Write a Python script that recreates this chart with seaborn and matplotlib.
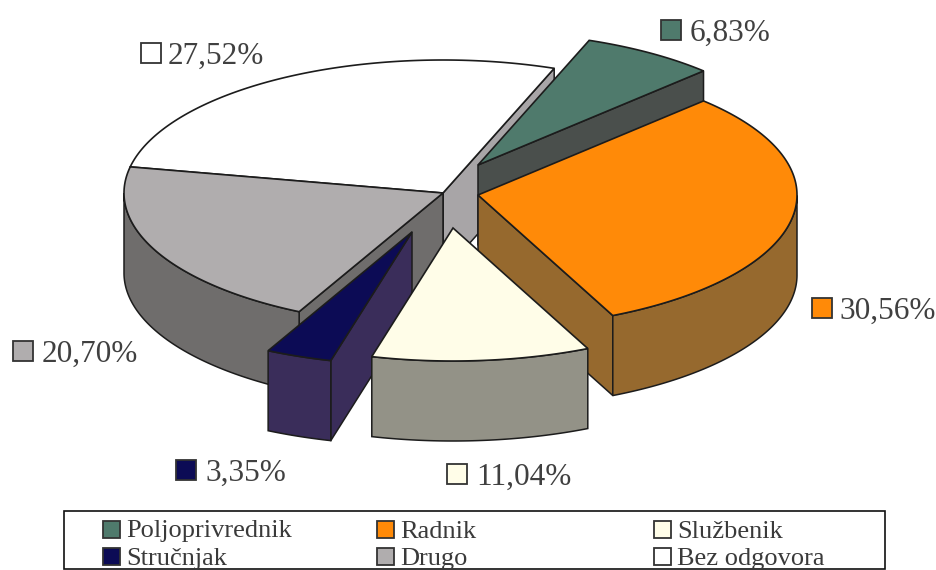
import matplotlib.pyplot as plt
import numpy as np
import seaborn as sns
from matplotlib.patches import Rectangle

labels = ["Poljoprivrednik", "Radnik", "Službenik", "Stručnjak", "Drugo", "Bez odgovora"]
shares = [6.83, 30.56, 11.04, 3.35, 20.70, 27.52]
share_text = ["6,83%", "30,56%", "11,04%", "3,35%", "20,70%", "27,52%"]

top_colors = ["#4f7a6c", "#ff8a08", "#fffde8", "#0c0b55", "#b0adae", "#ffffff"]
side_colors = ["#4a4f4c", "#96692e", "#939287", "#3a2d5a", "#6f6d6c", "#a8a5a7"]

# apex of every exploded slice and the pie shape, in pixels
apex = [(478, 165), (478, 195), (453, 228), (412, 232), (443, 193), (443, 193)]
rx, ry, depth = 319, 133, 80
start_angle = 69.6
draw_order = [5, 4, 0, 1, 3, 2]

# swatch corner and text start of the percent labels
pct_pos = [(661, 20, 690), (812, 298, 839), (447, 464, 476), (176, 460, 205), (13, 341, 42), (141, 43, 168)]
legend_pos = [(103, 529), (377, 529), (654, 529), (103, 556), (377, 556), (654, 556)]

sns.set_theme(style="white")
plt.rcParams["font.family"] = ["Liberation Serif", "DejaVu Serif"]

fig = plt.figure(figsize=(9.37, 5.70), dpi=100)
ax = fig.add_axes([0, 0, 1, 1])
ax.set_xlim(0, 937)
ax.set_ylim(570, 0)
ax.set_axis_off()

edges = start_angle - np.cumsum([0] + shares) * 3.6
line = "#1c1c1c"


def rim_point(i, t):
    rad = np.radians(t)
    return apex[i][0] + rx * np.cos(rad), apex[i][1] - ry * np.sin(rad)


for i in draw_order:
    hi, lo = edges[i], edges[i + 1]
    cx, cy = apex[i]

    # radial walls that face the viewer
    for t, normal in [(lo, lo - 90), (hi, hi + 90)]:
        if np.sin(np.radians(normal)) < 0:
            x, y = rim_point(i, t)
            ax.fill([cx, x, x, cx], [cy, y, y + depth, cy + depth],
                    facecolor=side_colors[i], edgecolor=line, linewidth=1.1, joinstyle="round")

    # outer wall, only the front part of the ellipse
    angles = np.linspace(lo, hi, 300)
    front = angles[np.sin(np.radians(angles)) < 0]
    if len(front) > 0:
        xs, ys = rim_point(i, front)
        ax.fill(np.r_[xs, xs[::-1]], np.r_[ys, ys[::-1] + depth],
                facecolor=side_colors[i], edgecolor=line, linewidth=1.1)

    xs, ys = rim_point(i, angles)
    ax.fill(np.r_[cx, xs], np.r_[cy, ys], facecolor=top_colors[i], edgecolor=line, linewidth=1.2)

for i, (sx, sy, tx) in enumerate(pct_pos):
    ax.add_patch(Rectangle((sx, sy), 20, 20, facecolor=top_colors[i], edgecolor="#333333", linewidth=1.3))
    ax.text(tx, sy + 10, share_text[i], fontsize=22.5, color="#404040", va="center_baseline", ha="left")

ax.add_patch(Rectangle((64.5, 511), 821, 58, facecolor="white", edgecolor="#111111", linewidth=1.2))
for i, (sx, sy) in enumerate(legend_pos):
    ax.add_patch(Rectangle((sx, sy - 8), 17, 17, facecolor=top_colors[i], edgecolor="#333333", linewidth=1.3))
    ax.text(sx + 23, sy, labels[i], fontsize=19, color="#3a3a3a", va="center_baseline", ha="left")

fig.savefig("out.png", dpi=100)
